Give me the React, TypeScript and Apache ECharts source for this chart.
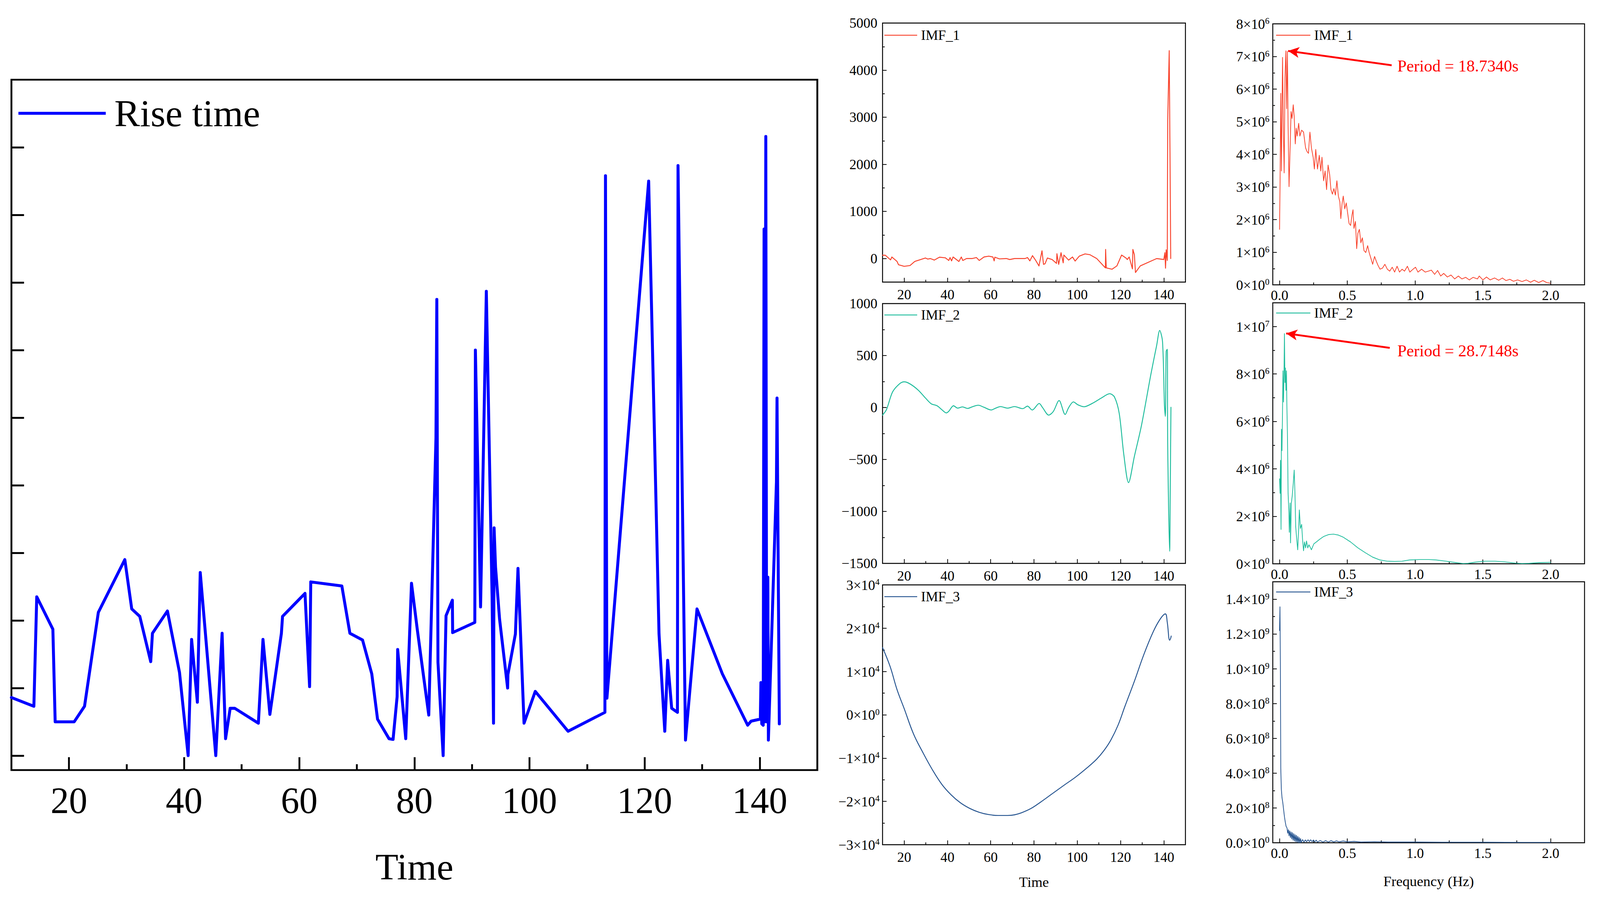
import React, { useEffect, useRef } from "react";
import * as echarts from "echarts";

const FONT = '"Liberation Serif", "Times New Roman", Times, serif';

// ---------------- data ----------------
const riseTime: [number, number][] = [
  [10, 0.86], [13.9, 0.73], [14.4, 2.35], [17.2, 1.87], [17.6, 0.5], [20.9, 0.5], [22.7, 0.73],
  [25.1, 2.12], [29.7, 2.9], [30.9, 2.17], [32.3, 2.06], [34.2, 1.39], [34.5, 1.81], [37.1, 2.14],
  [39.2, 1.23], [40.7, 0], [41.3, 1.72], [42.3, 0.79], [42.8, 2.71], [45.5, 0], [46.6, 1.81],
  [47.2, 0.25], [48.0, 0.7], [48.8, 0.7], [52.9, 0.48], [53.7, 1.72], [54.9, 0.61], [56.9, 1.81],
  [57.1, 2.06], [61.0, 2.4], [61.8, 1.02], [62.0, 2.57], [67.4, 2.51], [68.8, 1.81], [71.0, 1.71],
  [72.6, 1.21], [73.6, 0.54], [75.6, 0.25], [76.3, 0.24], [77.0, 0.87], [77.1, 1.57], [78.5, 0.25],
  [79.5, 2.55], [80.5, 1.87], [82.5, 0.6], [83.75, 4.7], [83.9, 6.75], [84.1, 1.38], [85.0, 0.0],
  [85.5, 2.07], [86.6, 2.3], [86.65, 1.82], [90.5, 1.97], [90.6, 6.0], [91.5, 2.2], [92.5, 6.87],
  [93.5, 2.35], [93.75, 0.48], [93.85, 3.37], [94.1, 2.79], [94.8, 2.02], [96.2, 1.0], [96.25, 1.2],
  [97.55, 1.8], [98.0, 2.77], [99.05, 0.48], [101.0, 0.95], [106.7, 0.36], [113.1, 0.64],
  [113.2, 8.58], [113.45, 0.85], [120.7, 8.5], [122.5, 1.8], [123.5, 0.36], [124.0, 1.41],
  [124.7, 0.7], [125.7, 0.64], [125.8, 8.73], [127.1, 0.23], [129.1, 2.17], [133.5, 1.21],
  [137.9, 0.45], [138.5, 0.51], [140.1, 0.54], [140.2, 1.08], [140.35, 0.47], [140.6, 0.45],
  [140.75, 7.79], [140.85, 0.5], [141.05, 9.16], [141.2, 0.5], [141.4, 2.64], [141.5, 0.23],
  [142.9, 4.05], [143.0, 5.29], [143.4, 0.47],
];
const riseTicks = [0, 1, 2, 3, 4, 5, 6, 7, 8, 9];
const timeTicks = [20, 40, 60, 80, 100, 120, 140];
const timeMinorTicks = [30, 50, 70, 90, 110, 130];

const imf1: [number, number][] = [
  [10, 70], [11.3, 70], [13.7, -29], [14.3, 33], [16.7, -62], [17.4, -132], [20, -165], [22.7, -149],
  [24.9, -62], [29.8, 12], [30.9, -12], [32.1, 0], [33.9, -33], [36.3, 29], [39, 16], [40.6, -41],
  [41.2, 21], [41.9, -50], [42.6, 33], [45.3, -62], [46.4, 33], [47.1, -41], [48.8, 0], [51.5, 0],
  [53.4, 21], [54.7, -41], [56.9, 33], [59.1, 50], [61, 33], [61.6, -50], [61.9, 29], [64, -8],
  [67.2, 0], [68.8, -21], [71, 0], [75.9, 0], [77, 21], [78.1, -50], [79.3, 62], [80.8, -41],
  [82.3, -157], [83.7, 165], [84.4, -124], [85.1, -111], [86.2, 12], [88.4, -21], [90.4, -103],
  [90.6, 103], [91.4, -124], [92.5, 124], [93.5, -91], [93.8, 74], [96, -33], [97.8, 33], [99, -54],
  [100.9, 50], [103.6, 99], [105.8, 82], [109, 0], [113, -198], [113.1, 194], [113.4, -198],
  [116.1, -227], [118.3, -157], [120.5, 74], [122.6, 8], [123.1, -21], [124, 33], [125.5, -219],
  [125.7, 194], [126.4, 82], [126.9, -297], [129.1, -157], [136.7, 0], [140, -21], [140.5, 124],
  [140.8, -206], [141.1, 186], [141.6, -41], [141.8, 2929], [142.5, 4414], [142.9, 1980], [143.2, 0],
];
const imf2: [number, number][] = [
  [10, -73], [11.8, -21], [14.6, 148], [17.8, 227], [20, 247], [22.7, 227], [26.5, 167], [29.8, 92],
  [32.5, 36], [35.2, 17], [37.4, -21], [39.5, -52], [40.6, -36], [42.8, 17], [44.7, -6], [46.9, 6],
  [49.3, -9], [51.5, 7], [54.2, 22], [56.9, 2], [60.2, -24], [62.3, -6], [64.5, 9], [67.8, -6],
  [71, 9], [74.8, -11], [77, 13], [79.2, -24], [82.4, 39], [84, -2], [86.8, -73], [88.9, -39],
  [91.6, 67], [94.4, -67], [96, -2], [98.2, 54], [100.3, 26], [103.1, 7], [106.9, 39], [111.2, 92],
  [115, 133], [117.2, 101], [119.4, -58], [121.5, -451], [123.7, -723], [126.4, -470], [129.7, -170],
  [134, 317], [136.7, 598], [138.1, 742], [139.4, 635], [140.3, 17], [140.7, -86], [141.1, 541],
  [141.6, 560], [141.8, -358], [142.7, -1384], [143, -732], [143.3, 2],
];
const imf3: [number, number][] = [
  [10, 15523], [13.5, 11150], [16.7, 5807], [20, 1435], [24.3, -4395], [28.7, -8767], [33, -12653],
  [37.4, -16053], [41.7, -18482], [46, -20328], [50.4, -21640], [54.7, -22514], [59.1, -23049],
  [63.4, -23243], [67.8, -23243], [71, -23097], [74.3, -22611], [78.6, -21640], [83, -20182],
  [88.4, -18239], [93.8, -16296], [99.3, -14353], [104.7, -12167], [109, -10223], [112.3, -8280],
  [115.5, -5852], [118.8, -2451], [122, 1920], [126.4, 7750], [130.7, 13823], [135.1, 19167],
  [138.3, 22080], [140.7, 23296], [141.6, 21353], [142.7, 17223], [143.2, 17709], [143.4, 18195],
];
const imf1Ticks = [0, 1000, 2000, 3000, 4000, 5000];
const imf1Minor = [500, 1500, 2500, 3500, 4500];
const imf2Ticks = [-1500, -1000, -500, 0, 500, 1000];
const imf2Minor = [-1250, -750, -250, 250, 750];
const imf3Ticks = [-30000, -20000, -10000, 0, 10000, 20000, 30000];
const imf3Minor = [-25000, -15000, -5000, 5000, 15000, 25000];

const spec1M: [number, number][] = [
  [0, 1.7], [0.004, 3.25], [0.009, 5.87], [0.014, 3.49], [0.022, 6.97], [0.029, 4.56], [0.034, 3.43],
  [0.04, 6.35], [0.047, 7.17], [0.052, 5.4], [0.058, 7.15], [0.063, 4.86], [0.07, 3.01], [0.078, 4.2],
  [0.085, 5.31], [0.092, 5.1], [0.101, 5.52], [0.108, 5.16], [0.116, 4.32], [0.123, 4.8], [0.13, 4.56],
  [0.141, 4.95], [0.15, 4.56], [0.163, 4.74], [0.177, 4.68], [0.192, 4.2], [0.202, 4.09], [0.213, 4.03],
  [0.224, 4.68], [0.235, 4.2], [0.248, 3.91], [0.257, 3.55], [0.267, 4.15], [0.28, 3.55], [0.293, 3.97],
  [0.304, 3.49], [0.313, 3.91], [0.325, 3.19], [0.336, 3.49], [0.347, 2.92], [0.358, 3.67], [0.37, 3.37],
  [0.379, 2.92], [0.39, 2.78], [0.401, 2.95], [0.412, 2.75], [0.423, 3.19], [0.434, 2.72], [0.445, 2.54],
  [0.452, 2.03], [0.461, 2.48], [0.47, 2.72], [0.481, 2.33], [0.492, 2.51], [0.502, 2.21], [0.513, 1.88],
  [0.524, 1.82], [0.535, 2.15], [0.542, 2.3], [0.549, 1.73], [0.56, 1.94], [0.569, 1.11], [0.578, 1.58],
  [0.589, 1.7], [0.6, 1.29], [0.611, 1.44], [0.623, 1.05], [0.636, 0.99], [0.65, 1.2], [0.661, 0.99],
  [0.672, 0.84], [0.687, 0.63], [0.701, 0.87], [0.714, 0.72], [0.726, 0.6], [0.741, 0.48], [0.759, 0.51],
  [0.777, 0.63], [0.795, 0.48], [0.813, 0.42], [0.831, 0.54], [0.849, 0.39], [0.867, 0.57], [0.885, 0.39],
  [0.904, 0.48], [0.922, 0.42], [0.943, 0.57], [0.961, 0.39], [0.985, 0.48], [1.003, 0.54], [1.021, 0.39],
  [1.048, 0.48], [1.075, 0.39], [1.099, 0.42], [1.12, 0.45], [1.144, 0.32], [1.166, 0.44], [1.189, 0.27],
  [1.211, 0.35], [1.238, 0.24], [1.265, 0.3], [1.292, 0.18], [1.319, 0.27], [1.346, 0.18], [1.373, 0.23],
  [1.4, 0.15], [1.428, 0.23], [1.46, 0.18], [1.473, 0.27], [1.5, 0.15], [1.527, 0.24], [1.554, 0.15],
  [1.587, 0.21], [1.617, 0.14], [1.644, 0.21], [1.671, 0.13], [1.699, 0.17], [1.726, 0.11], [1.756, 0.15],
  [1.789, 0.1], [1.821, 0.15], [1.852, 0.08], [1.879, 0.14], [1.912, 0.07], [1.943, 0.13], [1.97, 0.07],
  [1.997, 0.05],
];
const spec2M: [number, number][] = [
  [0, 3.58], [0.004, 2.97], [0.007, 4.36], [0.011, 1.45], [0.014, 5.67], [0.018, 4.77], [0.022, 6.49],
  [0.025, 8.13], [0.029, 6.82], [0.033, 8.13], [0.036, 9.7], [0.04, 7.64], [0.043, 8.25], [0.047, 7.31],
  [0.051, 8.13], [0.054, 6.66], [0.058, 5.51], [0.063, 2.97], [0.069, 2.15], [0.072, 1.33], [0.078, 2.56],
  [0.081, 0.88], [0.087, 2.56], [0.094, 2.89], [0.101, 3.38], [0.108, 3.95], [0.114, 2.89], [0.119, 1.57],
  [0.126, 1.08], [0.134, 0.59], [0.141, 1.49], [0.146, 2.27], [0.154, 1.49], [0.163, 1.66], [0.17, 1.0],
  [0.177, 0.55], [0.184, 0.92], [0.192, 0.67], [0.199, 0.96], [0.208, 0.67], [0.217, 0.8], [0.235, 0.59],
  [0.253, 0.84], [0.271, 0.92], [0.298, 1.04], [0.325, 1.15], [0.361, 1.23], [0.398, 1.25], [0.434, 1.21],
  [0.47, 1.12], [0.524, 0.92], [0.578, 0.67], [0.632, 0.47], [0.687, 0.28], [0.741, 0.16], [0.795, 0.11],
  [0.849, 0.1], [0.904, 0.11], [0.958, 0.16], [1.03, 0.18], [1.102, 0.18], [1.156, 0.16], [1.229, 0.11],
  [1.301, 0.05], [1.355, 0.01], [1.391, 0.02], [1.446, 0.07], [1.518, 0.11], [1.59, 0.11], [1.662, 0.08],
  [1.735, 0.03], [1.789, 0.01], [1.843, 0.02], [1.915, 0.05], [2.0, 0.06],
];
const spec3E8: [number, number][] = [
  [0, 12.2], [0.003, 13.56], [0.006, 10.4], [0.009, 4.3], [0.013, 3.1], [0.018, 2.6], [0.024, 2.3],
  [0.03, 1.9], [0.036, 1.5], [0.042, 1.2], [0.048, 0.95], [0.055, 0.85], [0.06, 0.55], [0.065, 0.75],
  [0.07, 0.4], [0.075, 0.68], [0.08, 0.3], [0.085, 0.62], [0.09, 0.22], [0.095, 0.58], [0.1, 0.15],
  [0.105, 0.52], [0.11, 0.1], [0.115, 0.46], [0.12, 0.06], [0.125, 0.42], [0.13, 0.03], [0.135, 0.36],
  [0.14, 0.01], [0.145, 0.3], [0.15, 0.0], [0.155, 0.24], [0.16, 0.02], [0.17, 0.18], [0.18, 0.04],
  [0.19, 0.16], [0.2, 0.06], [0.21, 0.17], [0.22, 0.07], [0.23, 0.17], [0.24, 0.06], [0.25, 0.16],
  [0.26, 0.05], [0.27, 0.15], [0.28, 0.04], [0.3, 0.13], [0.32, 0.04], [0.34, 0.12], [0.36, 0.04],
  [0.38, 0.12], [0.4, 0.05], [0.42, 0.11], [0.44, 0.05], [0.47, 0.1], [0.5, 0.05], [0.55, 0.08],
  [0.6, 0.04], [0.7, 0.06], [0.8, 0.04], [1.0, 0.04], [1.2, 0.03], [1.5, 0.03], [1.8, 0.02], [2.0, 0.02],
];
const freqTicks = [0, 0.5, 1, 1.5, 2];
const freqMinor = [0.25, 0.75, 1.25, 1.75];
const spec1Ticks = [0, 1e6, 2e6, 3e6, 4e6, 5e6, 6e6, 7e6, 8e6];
const spec1Minor = [0.5e6, 1.5e6, 2.5e6, 3.5e6, 4.5e6, 5.5e6, 6.5e6, 7.5e6];
const spec2Ticks = [0, 2e6, 4e6, 6e6, 8e6, 1e7];
const spec2Minor = [1e6, 3e6, 5e6, 7e6, 9e6];
const spec3Ticks = [0, 2e8, 4e8, 6e8, 8e8, 1e9, 1.2e9, 1.4e9];
const spec3Minor = [1e8, 3e8, 5e8, 7e8, 9e8, 1.1e9, 1.3e9];

const periods = ["Period = 18.7340s", "Period = 28.7148s"];
const arrow1: [number, number][] = [[0.827, 6.73e6], [0.063, 7.17e6]];
const arrow2: [number, number][] = [[0.813, 9.1e6], [0.049, 9.71e6]];

const C_RISE = "#0000FF";
const C1 = "#F8412A";
const C2 = "#1DBC9C";
const C3 = "#24538F";
const RED = "#FF0000";

const MINUS = "\u2212";
const sup = (m: string, e: string) => `{m|${m}×10}{s|${e}}`;
const plain = (v: number) => (v < 0 ? MINUS + Math.abs(v) : String(v));
const fmtM3 = (v: number) => (v === 0 ? sup("0", "0") : sup((v < 0 ? MINUS : "") + Math.abs(v / 1e4), "4"));
const fmtR1 = (v: number) => (v === 0 ? sup("0", "0") : sup(String(Math.round(v / 1e6)), "6"));
const fmtR2 = (v: number) =>
  v === 0 ? sup("0", "0") : v >= 1e7 ? sup(String(Math.round(v / 1e7)), "7") : sup(String(Math.round(v / 1e6)), "6");
const fmtR3 = (v: number) =>
  v === 0 ? sup("0.0", "0") : v >= 1e9 ? sup((v / 1e9).toFixed(1), "9") : sup((v / 1e8).toFixed(1), "8");

function buildOption(W: number, H: number) {
  const sx = W / 4342;
  const sy = H / 2324;
  const sf = Math.min(sx, sy);
  const X = (v: number) => v * sx;
  const Y = (v: number) => v * sy;
  const F = (v: number) => v * sf;

  const RICH = {
    m: { fontSize: F(38), fontFamily: FONT, color: "#000", verticalAlign: "bottom", lineHeight: F(40) },
    s: { fontSize: F(24), fontFamily: FONT, color: "#000", verticalAlign: "top", lineHeight: F(24) },
  };

  type Lbl = { values: number[]; fmt: (v: number) => string; fs: number; margin: number };
  const ax = (
    gridIndex: number,
    position: string,
    min: number,
    max: number,
    ticks: number[],
    len: number,
    w: number,
    label?: Lbl,
    extra?: any
  ) => ({
    type: "value",
    gridIndex,
    position,
    min,
    max,
    scale: false,
    axisLine: { show: false, onZero: false },
    splitLine: { show: false },
    minorTick: { show: false },
    axisTick: { show: true, inside: true, length: len, customValues: ticks, lineStyle: { color: "#000", width: w } },
    axisLabel: label
      ? {
          show: true,
          customValues: label.values,
          formatter: (v: number) => label.fmt(v),
          fontSize: F(label.fs),
          fontFamily: FONT,
          color: "#000",
          margin: label.margin,
          rich: RICH,
        }
      : { show: false },
    ...(extra || {}),
  });

  const nameStyle = (fs: number, gap: number, name: string) => ({
    name,
    nameLocation: "middle",
    nameGap: gap,
    nameTextStyle: { fontSize: F(fs), fontFamily: FONT, color: "#000" },
  });

  const grids = [
    [31, 204, 2187, 1767],
    [2395, 59, 822, 663],
    [2395, 777, 822, 665],
    [2395, 1497, 822, 665],
    [3454, 61, 846, 668],
    [3454, 775, 846, 668],
    [3454, 1489, 846, 668],
  ].map((g, i) => ({
    left: X(g[0]),
    top: Y(g[1]),
    width: X(g[2]),
    height: Y(g[3]),
    show: true,
    borderColor: "#000",
    borderWidth: i === 0 ? F(5) : F(2.5),
    backgroundColor: "transparent",
    containLabel: false,
  }));

  const xAxis: any[] = [];
  const yAxis: any[] = [];
  const smallX = (g: number, name?: string) => {
    xAxis.push(
      ax(g, "bottom", 10, 150, timeTicks, Y(11), F(2), { values: timeTicks, fmt: plain, fs: 38, margin: Y(14) },
        name ? nameStyle(39, Y(77), name) : undefined)
    );
    xAxis.push(ax(g, "bottom", 10, 150, timeMinorTicks, Y(6), F(2)));
  };
  const freqX = (g: number, name?: string) => {
    xAxis.push(
      ax(g, "bottom", -0.05, 2.25, freqTicks, Y(11), F(2), { values: freqTicks, fmt: (v) => v.toFixed(1), fs: 38, margin: Y(9) },
        name ? nameStyle(39, Y(80), name) : undefined)
    );
    xAxis.push(ax(g, "bottom", -0.05, 2.25, freqMinor, Y(6), F(2)));
  };
  const smallY = (g: number, min: number, max: number, t: number[], mn: number[], fmt: (v: number) => string, margin: number) => {
    yAxis.push(ax(g, "left", min, max, t, X(11), F(2), { values: t, fmt, fs: 38, margin: X(margin) }));
    yAxis.push(ax(g, "left", min, max, mn, X(6), F(2)));
  };

  xAxis.push(
    ax(0, "bottom", 10, 150, timeTicks, Y(33), F(5), { values: timeTicks, fmt: plain, fs: 100, margin: Y(31) }, nameStyle(102, Y(199), "Time"))
  );
  xAxis.push(ax(0, "bottom", 10, 150, timeMinorTicks, Y(15), F(5)));
  yAxis.push(ax(0, "left", -0.214, 10, riseTicks, X(34), F(5)));
  yAxis.push(ax(0, "left", -0.214, 10, riseTicks, X(34), F(5)));

  smallX(1);
  smallY(1, -500, 5000, imf1Ticks, imf1Minor, plain, 14);
  smallX(2);
  smallY(2, -1500, 1000, imf2Ticks, imf2Minor, plain, 14);
  smallX(3, "Time");
  smallY(3, -30000, 30000, imf3Ticks, imf3Minor, fmtM3, 8);

  freqX(4);
  smallY(4, 0, 8e6, spec1Ticks, spec1Minor, fmtR1, 9);
  freqX(5);
  smallY(5, 0, 1.1e7, spec2Ticks, spec2Minor, fmtR2, 9);
  freqX(6, "Frequency (Hz)");
  smallY(6, 0, 1.5e9, spec3Ticks, spec3Minor, fmtR3, 9);

  const line = (name: string, g: number, data: [number, number][], color: string, width: number, extra?: any) => ({
    type: "line",
    name,
    xAxisIndex: 2 * g,
    yAxisIndex: 2 * g,
    data,
    symbol: "none",
    showSymbol: false,
    clip: true,
    lineStyle: { color, width: F(width), join: "round", cap: "round" },
    itemStyle: { color },
    ...(extra || {}),
  });

  const arrowMark = (a: [number, number][]) => ({
    silent: true,
    animation: false,
    symbol: ["none", "arrow"],
    symbolSize: [F(22), F(30)],
    lineStyle: { color: RED, width: F(5), type: "solid" },
    itemStyle: { color: RED },
    label: { show: false },
    emphasis: { disabled: true },
    data: [[{ coord: a[0] }, { coord: a[1] }]],
  });

  const series = [
    line("Rise time", 0, riseTime, C_RISE, 8),
    line("IMF_1", 1, imf1, C1, 2.5),
    line("IMF_2", 2, imf2, C2, 2.5, { smooth: 0.3 }),
    line("IMF_3", 3, imf3, C3, 2.5, { smooth: 0.4 }),
    line("IMF_1", 4, spec1M.map(([f, v]) => [f, v * 1e6] as [number, number]), C1, 2, { markLine: arrowMark(arrow1) }),
    line("IMF_2", 5, spec2M.map(([f, v]) => [f, v * 1e6] as [number, number]), C2, 2, { markLine: arrowMark(arrow2) }),
    line("IMF_3", 6, spec3E8.map(([f, v]) => [f, v * 1e8] as [number, number]), C3, 2),
  ];

  const lg = (name: string, left: number, cy: number, iw: number, ih: number, fs: number, pad: number) => ({
    data: [name],
    left: X(left),
    top: Y(cy) - F(fs) / 2,
    itemWidth: X(iw),
    itemHeight: F(ih),
    icon: "rect",
    padding: 0,
    selectedMode: false,
    textStyle: { fontSize: F(fs), fontFamily: FONT, color: "#000", padding: [0, 0, 0, X(pad)] },
  });

  const legend = [
    lg("Rise time", 50, 290, 237, 8, 104, 18),
    lg("IMF_1", 2400, 90, 89, 2.5, 38, 5),
    lg("IMF_2", 2400, 806, 89, 2.5, 38, 5),
    lg("IMF_3", 2400, 1527, 89, 2.5, 38, 5),
    lg("IMF_1", 3463, 90, 93, 2.5, 38, 5),
    lg("IMF_2", 3463, 801, 93, 2.5, 38, 5),
    lg("IMF_3", 3463, 1515, 93, 2.5, 38, 5),
  ];

  const graphic: any[] = [
    { type: "text", left: X(3792), top: Y(169) - F(45) / 2, silent: true, style: { text: periods[0], fontSize: F(45), fontFamily: FONT, fill: RED } },
    { type: "text", left: X(3792), top: Y(898) - F(45) / 2, silent: true, style: { text: periods[1], fontSize: F(45), fontFamily: FONT, fill: RED } },
  ];

  return {
    animation: false,
    backgroundColor: "#ffffff",
    textStyle: { fontFamily: FONT },
    grid: grids,
    xAxis,
    yAxis,
    legend,
    series,
    graphic,
  };
}

export default function App() {
  const ref = useRef<HTMLDivElement>(null);
  useEffect(() => {
    const el = ref.current;
    if (!el) return;
    const W = el.clientWidth || 4342;
    const H = el.clientHeight || 2324;
    const chart = echarts.init(el, undefined, { renderer: "svg", width: W, height: H });
    chart.setOption(buildOption(W, H) as any);
    return () => chart.dispose();
  }, []);
  return (
    <div
      ref={ref}
      style={{ position: "fixed", left: 0, top: 0, width: "100vw", height: "100vh", background: "#fff", overflow: "hidden" }}
    />
  );
}
